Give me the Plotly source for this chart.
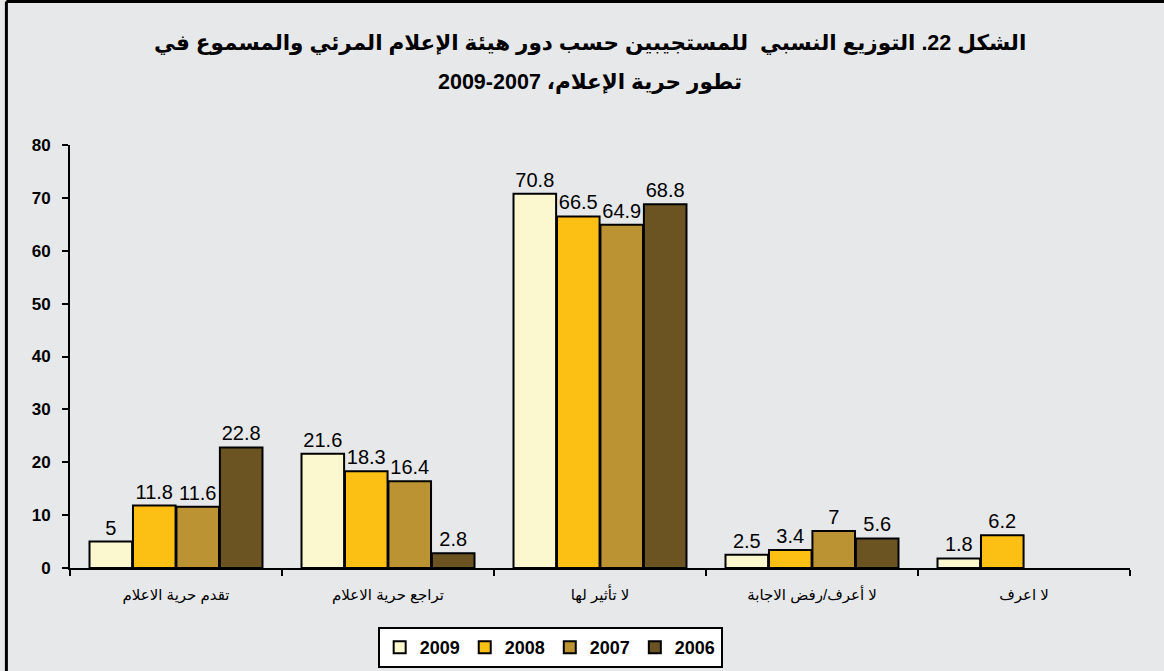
import plotly.graph_objects as go

CATEGORIES = ["تقدم حرية الاعلام", "تراجع حرية الاعلام", "لا تأثير لها", "لا أعرف/رفض الاجابة", "لا اعرف"]
YEARS = ["2009", "2008", "2007", "2006"]
V_2009 = [5, 21.6, 70.8, 2.5, 1.8]
V_2008 = [11.8, 18.3, 66.5, 3.4, 6.2]
V_2007 = [11.6, 16.4, 64.9, 7, None]
V_2006 = [22.8, 2.8, 68.8, 5.6, None]
COLORS = ["#FBF8D0", "#FCC015", "#BC9332", "#6B5322"]

TITLE_1 = "الشكل 22. التوزيع النسبي  للمستجيبين حسب دور هيئة الإعلام المرئي والمسموع في"
TITLE_2 = "تطور حرية الإعلام، 2007-2009"

BG = "#E7E8EA"
FONT = "Liberation Sans, Arial, DejaVu Sans, sans-serif"

fig = go.Figure()
for year, vals, color in zip(YEARS, [V_2009, V_2008, V_2007, V_2006], COLORS):
    fig.add_trace(go.Bar(
        x=CATEGORIES,
        y=vals,
        name=year,
        marker=dict(color=color, line=dict(color="black", width=2)),
        text=[("" if v is None else f"{v:g}") for v in vals],
        textposition="outside",
        textfont=dict(size=20, color="black", family=FONT),
        cliponaxis=False,
    ))

# plot area spans 145..568 px vertically
for txt, ypos in [(TITLE_1, 43), (TITLE_2, 82)]:
    fig.add_annotation(text=txt, x=0.4906, y=(568 - ypos) / 423, xref="paper", yref="paper",
                       xanchor="center", yanchor="middle", showarrow=False,
                       font=dict(size=21.5, color="black", family=FONT, weight="bold"))

# outer frame (top and left edges visible)
fig.add_shape(type="line", xref="paper", yref="paper", x0=-0.06, x1=1.05, y0=1.339, y1=1.339,
              line=dict(color="black", width=3))
fig.add_shape(type="line", xref="paper", yref="paper", x0=-0.06, x1=-0.06, y0=1.339, y1=-0.26,
              line=dict(color="black", width=3))

fig.update_layout(
    width=1164,
    height=671,
    barmode="group",
    bargap=0.18,
    bargroupgap=0.02,
    paper_bgcolor=BG,
    plot_bgcolor=BG,
    margin=dict(l=70, r=34, t=145, b=103, autoexpand=False),
    font=dict(family=FONT, color="black"),
    legend=dict(
        orientation="h",
        x=0.453, xanchor="center",
        y=(568 - 627) / 423, yanchor="top",
        bgcolor="white",
        bordercolor="black",
        borderwidth=2,
        itemwidth=30,
        font=dict(size=18, color="black", family=FONT, weight="bold"),
        traceorder="normal",
    ),
    xaxis=dict(
        showline=True, linecolor="black", linewidth=2,
        ticks="outside", tickson="boundaries", ticklen=6, tickwidth=2, tickcolor="black",
        ticklabelstandoff=12,
        tickfont=dict(size=15, color="black"),
        showgrid=False, automargin=False,
    ),
    yaxis=dict(
        range=[0, 80], dtick=10,
        showline=True, linecolor="black", linewidth=2,
        ticks="outside", ticklen=6, tickwidth=2, tickcolor="black",
        ticklabelstandoff=8,
        tickfont=dict(size=17, color="black", family=FONT, weight="bold"),
        showgrid=False, zeroline=False, automargin=False,
    ),
)

fig.write_html("out.html", config={"displayModeBar": False},
               post_script="document.body.style.margin='0';")
